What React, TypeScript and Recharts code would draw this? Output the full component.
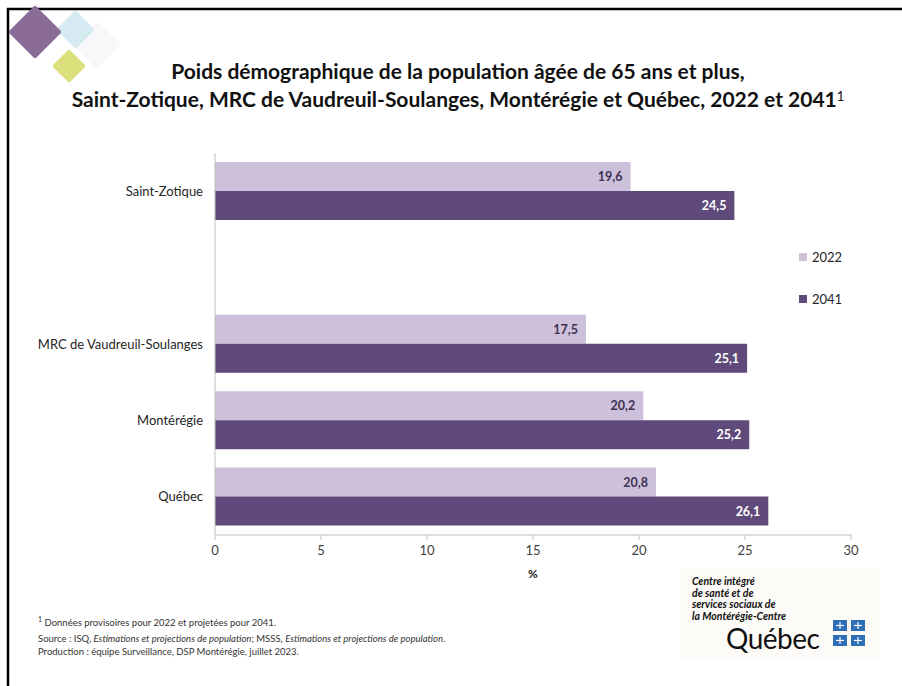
import React from 'react';
import { BarChart, Bar, XAxis, YAxis, LabelList } from 'recharts';

const categories = ['Saint-Zotique', ' ', 'MRC de Vaudreuil-Soulanges', 'Montérégie', 'Québec'];
const values2022 = [19.6, null, 17.5, 20.2, 20.8];
const values2041 = [24.5, null, 25.1, 25.2, 26.1];
const xTicks = [0, 5, 10, 15, 20, 25, 30];
const seriesNames = ['2022', '2041'];

const COLORS = {
  light: '#CCC0DA',
  dark: '#604A7B',
  axis: '#BFBFBF',
  text: '#404040'
};

const FONT = 'Lato, "Open Sans", sans-serif';

const chartData = categories.map((name, i) => ({
  name,
  y2022: values2022[i],
  y2041: values2041[i]
}));

const fmt = (v: any) => (v === null || v === undefined ? '' : String(v).replace('.', ','));

const Decor: React.FC = () => (
  <svg width={902} height={686} style={{ position: 'absolute', left: 0, top: 0 }}>
    {/* slide border */}
    <line x1={7} y1={9} x2={902} y2={9} stroke="#000" strokeWidth={2.5} />
    <line x1={8} y1={8} x2={8} y2={686} stroke="#000" strokeWidth={2.5} />
    {/* corner diamonds */}
    <rect x={80} y={28} width={34} height={34} fill="#F8F8FA" transform="rotate(45 97 45)" rx={2} />
    <rect x={62} y={16} width={27} height={27} fill="#D6EAF1" transform="rotate(45 75.5 29.5)" rx={2} />
    <rect x={16} y={13} width={38} height={38} fill="#8A6C94" transform="rotate(45 35 32)" rx={2} />
    <rect x={57} y={54} width={24} height={24} fill="#DCE07C" transform="rotate(45 69 66)" rx={2} />
    {/* logo background */}
    <rect x={680} y={569} width={200} height={92} fill="#FCFBF8" />
    {[[833, 620], [851, 620], [833, 635], [851, 635]].map(([x, y], i) => (
      <g key={i}>
        <rect x={x} y={y} width={14} height={11} fill="#2E6FB7" />
        <line x1={x + 7} y1={y + 2} x2={x + 7} y2={y + 9} stroke="#fff" strokeWidth={1.2} />
        <line x1={x + 3} y1={y + 5.5} x2={x + 11} y2={y + 5.5} stroke="#fff" strokeWidth={1.2} />
      </g>
    ))}
  </svg>
);

export default function App() {
  return (
    <div style={{ position: 'absolute', left: 0, top: 0, width: 902, height: 686, background: '#fff', fontFamily: FONT, overflow: 'hidden' }}>
      <Decor />

      {/* title */}
      <div style={{
        position: 'absolute',
        left: 0,
        width: 916,
        top: 57,
        textAlign: 'center',
        fontSize: 21,
        fontWeight: 700,
        lineHeight: '28px',
        color: '#111'
      }}>
        Poids démographique de la population âgée de 65 ans et plus,<br />
        Saint-Zotique, MRC de Vaudreuil-Soulanges, Montérégie et Québec, 2022 et 2041
        <sup style={{ fontSize: 13, fontWeight: 400, verticalAlign: 'top', position: 'relative', top: -3 }}>1</sup>
      </div>

      <div style={{ position: 'absolute', left: 0, top: 0 }}>
        <BarChart
          width={902}
          height={686}
          data={chartData}
          layout="vertical"
          margin={{ top: 153, right: 51, left: 0, bottom: 106 }}
          barGap={0}
        >
          <XAxis
            type="number"
            domain={[0, 30]}
            ticks={xTicks}
            height={45}
            axisLine={{ stroke: COLORS.axis }}
            tickLine={{ stroke: COLORS.axis }}
            tickSize={5}
            tickMargin={6}
            tick={{ fill: COLORS.text, fontSize: 13, fontFamily: FONT }}
            label={{ value: '%', position: 'insideBottom', offset: 2, fill: '#222', fontSize: 12, fontWeight: 700, fontFamily: FONT }}
          />
          <YAxis
            type="category"
            dataKey="name"
            width={215}
            axisLine={{ stroke: COLORS.axis }}
            tickLine={false}
            tickSize={0}
            tickMargin={12}
            tick={{ fill: '#262626', fontSize: 13, fontFamily: FONT }}
          />
          <Bar dataKey="y2022" name={seriesNames[0]} fill={COLORS.light} barSize={29} isAnimationActive={false}>
            <LabelList dataKey="y2022" position="insideRight" offset={8} formatter={fmt}
              style={{ fill: '#3F3151', fontSize: 12.5, fontWeight: 700, fontFamily: FONT }} />
          </Bar>
          <Bar dataKey="y2041" name={seriesNames[1]} fill={COLORS.dark} barSize={29} isAnimationActive={false}>
            <LabelList dataKey="y2041" position="insideRight" offset={8} formatter={fmt}
              style={{ fill: '#FFFFFF', fontSize: 12.5, fontWeight: 700, fontFamily: FONT }} />
          </Bar>
        </BarChart>
      </div>

      {/* legend */}
      {seriesNames.map((s, i) => (
        <div key={s} style={{ position: 'absolute', left: 799, top: 249 + i * 42, display: 'flex', alignItems: 'center', fontSize: 13, color: '#262626' }}>
          <span style={{ display: 'inline-block', width: 8, height: 8, background: i === 0 ? COLORS.light : COLORS.dark, marginRight: 5 }} />
          {s}
        </div>
      ))}

      {/* notes */}
      <div style={{ position: 'absolute', left: 38, top: 613, fontSize: 9.5, color: '#333', lineHeight: '13px', fontFamily: FONT }}>
        <div style={{ marginBottom: 3 }}><sup style={{ fontSize: 7 }}>1</sup> Données provisoires pour 2022 et projetées pour 2041.</div>
        <div>Source : ISQ, <i>Estimations et projections de population</i>; MSSS, <i>Estimations et projections de population</i>.</div>
        <div>Production : équipe Surveillance, DSP Montérégie, juillet 2023.</div>
      </div>

      {/* logo */}
      <div style={{ position: 'absolute', left: 692, top: 576, fontSize: 10.5, fontWeight: 700, fontStyle: 'italic', lineHeight: '11.5px', color: '#111', fontFamily: FONT }}>
        Centre intégré<br />de santé et de<br />services sociaux de<br />la Montérégie-Centre
      </div>
      <div style={{ position: 'absolute', left: 726, top: 625, fontSize: 28, lineHeight: '26px', color: '#111', fontFamily: FONT, letterSpacing: -0.5 }}>
        Québec
      </div>
    </div>
  );
}
